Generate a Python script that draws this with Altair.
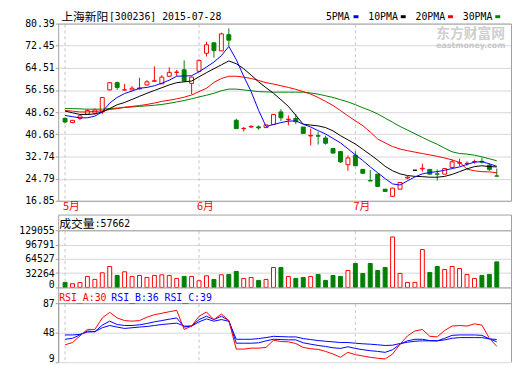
import altair as alt
import pandas as pd

# ---------------- data ----------------
stock_name = "上海新阳"
stock_code = "[300236] 2015-07-28"

opens = [46.4, 44.9, 46.4, 47.9, 48.3, 48.7, 56.6, 59.2, 56.55, 56.6,
         56.95, 58.4, 59.7, 58.8, 61.5, 62.9, 63.8, 58.95, 63.3, 69.75,
         73.5, 70.6, 76.4, 45.7, 42.7, 43.3, 43.35, 43.1, 44.2, 48.7,
         45.9, 46.4, 43.3, 40.1, 40.2, 39.35, 35.6, 34.5, 29.8, 33.2,
         28.1, 24.1, 26.4, 21.0, 18.45, 21.0, 25.0, 27.8, 28.3, 28.1,
         26.5, 26.4, 28.8, 30.3, 30.2, 30.8, 31.0, 29.6, 25.75]
highs = [46.75, 45.8, 47.4, 49.6, 49.9, 53.9, 59.4, 59.6, 58.8, 58.0,
         60.95, 60.1, 65.06, 61.9, 64.7, 63.8, 67.2, 61.4, 67.5, 73.9,
         73.5, 77.15, 78.7, 46.3, 43.3, 43.9, 43.9, 44.05, 47.8, 49.7,
         47.45, 48.0, 43.3, 42.75, 41.6, 40.2, 35.6, 34.5, 33.1, 34.65,
         28.1, 27.85, 26.4, 21.0, 21.4, 23.4, 25.7, 27.8, 30.2, 28.1,
         28.1, 28.4, 31.6, 31.95, 31.0, 31.6, 32.3, 30.2, 28.4]
lows = [44.6, 44.7, 45.8, 47.6, 47.8, 47.9, 56.4, 56.6, 56.5, 56.5,
        56.8, 58.1, 59.5, 58.7, 61.3, 61.6, 59.5, 55.1, 63.1, 68.6,
        68.2, 70.6, 72.2, 42.5, 41.7, 42.9, 42.3, 42.9, 44.1, 45.45,
        43.9, 44.3, 41.0, 36.65, 37.0, 37.0, 33.95, 30.4, 27.6, 29.4,
        26.7, 23.95, 22.0, 20.2, 18.2, 21.0, 24.6, 27.8, 27.25, 26.2,
        24.1, 26.4, 28.8, 29.25, 29.4, 30.2, 30.2, 27.6, 25.7]
closes = [45.1, 45.7, 47.3, 49.2, 49.4, 53.9, 59.2, 57.5, 56.65, 57.2,
          57.3, 59.5, 59.9, 61.2, 62.9, 63.0, 59.8, 61.2, 67.2, 72.8,
          70.7, 76.7, 74.45, 42.75, 42.8, 43.55, 43.0, 44.05, 47.8, 46.6,
          46.1, 45.2, 41.0, 40.3, 40.0, 37.5, 33.95, 30.8, 32.2, 29.4,
          26.7, 23.95, 22.0, 20.2, 21.4, 23.4, 25.3, 27.8, 28.5, 26.4,
          26.4, 28.4, 30.8, 30.55, 30.3, 30.9, 30.7, 28.1, 25.7]
volumes = [11250, 8250, 11250, 24750, 18000, 33000, 47250, 27000, 35250, 24750,
           27000, 22500, 27000, 28500, 27000, 20250, 24750, 24750, 15000, 26250,
           18000, 28500, 29250, 36000, 20250, 22500, 15750, 18000, 45000, 45000,
           24750, 20250, 22500, 24750, 29250, 15750, 27000, 24750, 38250, 54000,
           31500, 54000, 38250, 45000, 114000, 31500, 11250, 11250, 85500, 33750,
           47250, 40500, 47250, 42750, 29250, 20250, 27000, 29250, 57662]

ma5 = [47.45, 47.0, 46.6, 46.6, 47.2, 48.7, 51.9, 53.9, 55.3, 56.2,
       57.2, 57.5, 58.1, 59.0, 60.1, 61.5, 61.6, 61.7, 63.1, 64.8,
       66.6, 68.9, 72.2, 67.5, 61.5, 56.0, 49.3, 43.5, 44.2, 44.9,
       45.4, 45.5, 44.3, 43.3, 42.0, 40.8, 39.2, 37.6, 35.5, 33.3,
       31.3, 29.0, 26.9, 24.8, 22.9, 22.5, 24.0, 25.4, 26.5, 27.0,
       27.3, 27.8, 28.4, 29.0, 29.9, 30.7, 30.9, 30.1, 29.2]
ma10 = [49.0, 48.4, 47.8, 47.8, 48.0, 48.7, 49.9, 51.3, 52.1, 53.2,
        54.3, 55.4, 56.4, 57.4, 58.4, 59.2, 59.5, 59.8, 61.3, 62.8,
        64.2, 65.6, 67.0, 66.0, 64.2, 61.9, 59.5, 57.4, 55.4, 53.1,
        50.7, 47.5, 44.3, 44.0, 43.7, 43.1, 41.9, 40.2, 38.7, 37.2,
        35.3, 33.4, 31.4, 29.2, 27.6, 26.5, 25.9, 25.6, 25.5, 25.3,
        25.3, 25.6, 26.3, 27.3, 28.3, 29.1, 29.4, 29.1, 29.0]
ma20 = [49.2, 49.0, 48.7, 48.7, 48.9, 49.1, 49.6, 49.9, 50.4, 50.7,
        51.0, 51.4, 51.9, 52.5, 52.9, 53.4, 54.0, 54.8, 56.0, 57.2,
        59.3, 60.7, 61.5, 61.5, 61.2, 60.7, 60.0, 59.2, 58.7, 58.1,
        57.5, 56.8, 56.0, 55.1, 53.9, 52.5, 51.0, 49.2, 47.3, 45.5,
        43.8, 41.5, 39.0, 37.6, 36.3, 35.4, 34.8, 34.3, 33.8, 33.3,
        32.8, 32.2, 31.5, 30.6, 28.2, 27.6, 27.3, 27.2, 26.9]
ma30 = [49.9, 49.9, 49.8, 49.7, 49.7, 49.7, 49.9, 50.1, 50.3, 50.5,
        50.7, 50.9, 51.1, 51.4, 51.8, 52.3, 52.8, 53.4, 54.1, 54.7,
        55.4, 56.3, 56.9, 56.9, 56.6, 56.3, 56.0, 55.9, 55.8, 55.8,
        55.8, 55.8, 55.8, 55.5, 55.1, 54.5, 53.9, 53.1, 52.3, 51.3,
        50.2, 49.2, 48.0, 46.5, 45.0, 43.5, 42.2, 40.9, 39.6, 38.3,
        37.1, 35.7, 34.4, 33.8, 33.6, 33.2, 32.6, 31.9, 31.2]

rsi_a = [32.0, 35.0, 43.7, 52.3, 52.3, 67.5, 74.9, 67.5, 64.0, 63.2,
         64.0, 68.4, 71.8, 73.6, 75.7, 77.5, 52.3, 56.7, 69.7, 75.3,
         65.3, 72.7, 64.0, 26.3, 26.3, 27.6, 27.6, 28.5, 38.0, 36.3,
         35.9, 33.7, 28.5, 26.8, 25.9, 23.3, 19.8, 15.5, 22.0, 19.0,
         17.2, 15.5, 14.2, 13.3, 19.8, 32.8, 43.7, 50.2, 52.3, 43.2,
         42.4, 51.0, 56.7, 57.5, 56.7, 59.7, 58.0, 40.6, 30.0]
rsi_b = [39.3, 40.6, 45.0, 50.2, 49.3, 58.0, 63.2, 58.8, 57.5, 57.5,
         58.4, 60.1, 62.3, 64.0, 65.8, 67.5, 55.4, 56.7, 65.3, 69.7,
         65.3, 69.7, 64.0, 34.1, 34.1, 34.1, 34.6, 37.2, 39.3, 38.9,
         38.5, 38.5, 34.6, 32.8, 31.1, 29.8, 28.1, 27.2, 29.4, 27.2,
         25.5, 24.2, 23.3, 22.0, 25.5, 32.8, 37.2, 39.3, 39.3, 37.6,
         37.2, 40.6, 44.5, 45.0, 45.0, 45.0, 44.5, 39.8, 36.0]
rsi_c = [45.0, 45.0, 45.8, 48.9, 49.3, 54.5, 57.5, 55.4, 53.6, 54.5,
         55.4, 56.2, 57.5, 58.8, 59.7, 60.6, 56.7, 56.7, 62.3, 66.2,
         63.2, 65.3, 63.2, 39.3, 39.3, 39.3, 40.2, 41.5, 43.2, 42.8,
         42.4, 42.4, 40.2, 38.9, 37.6, 36.7, 35.9, 35.0, 35.0, 34.1,
         33.3, 32.8, 32.0, 31.1, 31.5, 33.7, 35.4, 36.7, 37.2, 37.2,
         37.2, 38.5, 40.6, 41.5, 41.5, 41.5, 41.5, 39.8, 39.0]

month_names = ["5月", "6月", "7月"]
month_start = [0, 18, 39]
price_ticks = [16.85, 24.79, 32.74, 40.68, 48.62, 56.56, 64.51, 72.45, 80.39]
volume_ticks = [0, 32264, 64527, 96791, 129055]
rsi_ticks = [9, 48, 87]
ma_names = ["5PMA", "10PMA", "20PMA", "30PMA"]
rsi_names = ["RSI_A", "RSI_B", "RSI_C"]
rsi_last = [30, 36, 39]
volume_label = "成交量"
last_volume = 57662
brand_cn = "东方财富网"
brand_en = "eastmoney.com"

# ---------------- styling ----------------
RED, GREEN, BLUE, BLACK, WHITE = "#ff0000", "#008000", "#0000ff", "#000000", "#ffffff"
FRAME, GRID, DASH = "#a0a0a0", "#d6d6d6", "#c4c4c4"
MONO, CJK = "DejaVu Sans Mono", "Noto Sans CJK SC"
W, H = 460, 357

n = len(closes)
idx = list(range(n))
col, fill, vfill, vcol = [], [], [], []
for o, c in zip(opens, closes):
    if c > o:
        col.append(RED); fill.append(WHITE)
    elif c < o:
        col.append(GREEN); fill.append(GREEN)
    else:
        col.append(BLACK); fill.append(BLACK)
    vcol.append(GREEN if c < o else RED)
    vfill.append(GREEN if c < o else WHITE)

candles = pd.DataFrame({
    "i": idx, "open": opens, "high": highs, "low": lows, "close": closes,
    "lo": [min(o, c) for o, c in zip(opens, closes)],
    "hi": [max(o, c) for o, c in zip(opens, closes)],
    "col": col, "fill": fill, "volume": volumes, "vcol": vcol, "vfill": vfill,
})

ma_colors = [BLUE, BLACK, RED, GREEN]
ma_long = pd.concat([
    pd.DataFrame({"i": idx, "v": vals, "s": name, "c": c})
    for name, vals, c in zip(ma_names, [ma5, ma10, ma20, ma30], ma_colors)
][::-1])
rsi_colors = [RED, BLUE, BLUE]
rsi_long = pd.concat([
    pd.DataFrame({"i": idx, "v": vals, "s": name, "c": c})
    for name, vals, c in zip(rsi_names, [rsi_a, rsi_b, rsi_c], rsi_colors)
][::-1])
months = pd.DataFrame({"i": month_start, "name": month_names})
one = pd.DataFrame({"k": [0]})

xs = alt.Scale(domain=[-0.26, 59.25], nice=False, zero=False)
X = alt.X("i:Q", scale=xs, axis=None)
ps = alt.Scale(domain=[price_ticks[0], price_ticks[-1]], range=[193, 13], nice=False, zero=False)
vs = alt.Scale(domain=[volume_ticks[0], volume_ticks[-1]], range=[281, 223], nice=False)
rs = alt.Scale(domain=[rsi_ticks[0], rsi_ticks[-1]], range=[357, 297], nice=False, zero=False)


def yaxis(values, fmt, low_value=None, lift=0):
    offset = 0
    if low_value is not None:
        offset = {"condition": {"test": f"datum.value == {low_value}", "value": -lift}, "value": 0}
    return alt.Axis(orient="left", values=values, format=fmt, grid=True, gridColor=GRID,
                    gridWidth=1, domainColor=FRAME, tickColor=FRAME, tickSize=3,
                    labelFont=MONO, labelFontSize=10, labelColor=BLACK, labelPadding=1,
                    labelFlush=False, labelOverlap=False, title=None, labelOffset=offset)


def hline(y, x1=0.5, x2=W + 0.5, color=FRAME, width=1):
    return alt.Chart(one).mark_rule(color=color, strokeWidth=width).encode(
        x=alt.value(x1), x2=alt.value(x2), y=alt.value(y))


def vline(x, y1, y2, color=FRAME):
    return alt.Chart(one).mark_rule(color=color, strokeWidth=1).encode(
        x=alt.value(x), y=alt.value(y1), y2=alt.value(y2))


def txt(s, x, y, color=BLACK, size=10, font=MONO, weight="normal"):
    return alt.Chart(pd.DataFrame({"t": [s]})).mark_text(
        align="left", baseline="middle", font=font, fontSize=size, color=color,
        fontWeight=weight).encode(x=alt.value(x), y=alt.value(y), text="t:N")


def month_rules(y1, y2):
    return alt.Chart(months).mark_rule(color=DASH, strokeDash=[3, 3], strokeWidth=1).encode(
        x=X, y=alt.value(y1), y2=alt.value(y2))


# ---------------- price panel ----------------
wick = alt.Chart(candles).mark_rule(strokeWidth=1).encode(
    x=X, y=alt.Y("low:Q", scale=ps, axis=yaxis(price_ticks, ".2f")), y2="high:Q",
    color=alt.Color("col:N", scale=None))
body = alt.Chart(candles).mark_bar(size=4, strokeWidth=1).encode(
    x=X, y=alt.Y("lo:Q", scale=ps, axis=None), y2="hi:Q",
    fill=alt.Fill("fill:N", scale=None), stroke=alt.Stroke("col:N", scale=None))
ma_lines = alt.Chart(ma_long).mark_line(strokeWidth=1).encode(
    x=X, y=alt.Y("v:Q", scale=ps, axis=None), color=alt.Color("c:N", scale=None),
    detail="s:N")

# ---------------- volume panel ----------------
vol = alt.Chart(candles).mark_bar(size=4, strokeWidth=1).encode(
    x=X, y=alt.Y("volume:Q", scale=vs, stack=None,
                 axis=yaxis(volume_ticks, "d", low_value=0, lift=3)),
    fill=alt.Fill("vfill:N", scale=None), stroke=alt.Stroke("vcol:N", scale=None))

# ---------------- RSI panel ----------------
rsi_lines = alt.Chart(rsi_long).mark_line(strokeWidth=1).encode(
    x=X, y=alt.Y("v:Q", scale=rs, axis=yaxis(rsi_ticks, "d", low_value=9, lift=4)),
    color=alt.Color("c:N", scale=None), detail="s:N")

month_text = alt.Chart(months).mark_text(
    align="left", baseline="middle", dx=-2, font=CJK, fontSize=11, color=RED).encode(
    x=X, y=alt.value(199.5), text="name:N")

layers = [
    month_rules(14, 193), month_rules(224, 281), month_rules(298, 357),
    wick, body, ma_lines, vol, rsi_lines,
    hline(13.5), hline(193.5), hline(207.5), hline(223.5), hline(281.5), hline(297.5),
    vline(0.5, 207.5, 357), vline(W + 0.5, 13.5, 193.5), vline(W + 0.5, 207.5, 357),
    month_text,
    txt(stock_name, 3, 6.3, size=12, font=CJK),
    txt(stock_code, 51.5, 6),
    txt(brand_cn, 384, 23.5, color="#cfcfcf", size=14, font=CJK, weight="bold"),
    txt(brand_en, 384, 36, color="#c8c8c8", size=8, font="DejaVu Sans", weight="bold"),
    txt(volume_label, 1, 217, size=12, font=CJK),
    txt(":" + str(last_volume), 37, 217),
]
for name, c, xt, xd in zip(ma_names, ma_colors, [272, 315, 363, 411], [300, 348, 396, 444]):
    layers.append(txt(name, xt, 6))
    layers.append(hline(6, xd, xd + 5, color=c, width=3))
for name, val, c, xt in zip(rsi_names, rsi_last, rsi_colors, [1, 54, 108]):
    layers.append(txt(f"{name}:{val}", xt, 292, color=c))

chart = alt.layer(*layers).resolve_scale(y="independent").properties(
    width=W, height=H,
    autosize=alt.AutoSizeParams(type="none"),
    padding={"left": 51, "top": 0, "right": 1, "bottom": 0},
).configure_view(stroke=None)

chart.save("out.html", embed_options={"renderer": "svg", "actions": False})
